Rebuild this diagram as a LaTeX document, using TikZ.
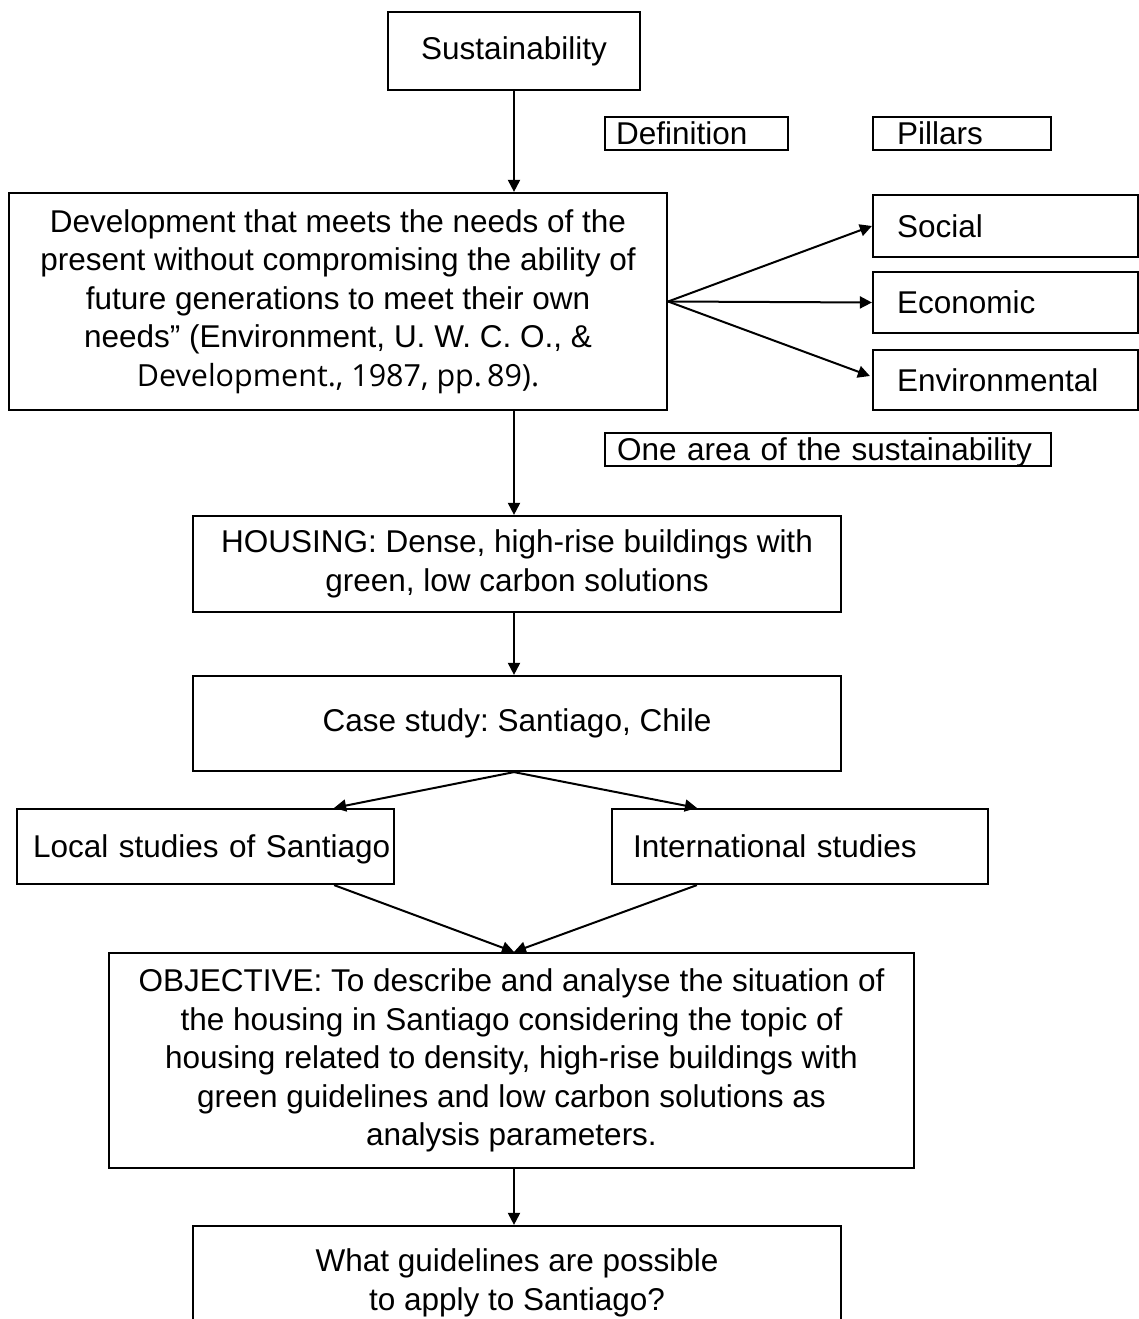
\documentclass[tikz,border=0pt]{standalone}
\usepackage{fontspec}
\setmainfont{Liberation Sans}
\newfontfamily\opensans{Open Sans}
\usetikzlibrary{arrows.meta,calc}
\newcommand{\fsz}{\fontsize{31.5}{38.5}\selectfont\frenchspacing}
\begin{document}
\begin{tikzpicture}[x=1pt,y=-1pt,
  box/.style={draw, line width=2.2pt, inner sep=0pt, font=\fsz, align=center},
  lbox/.style={box, align=left},
  tag/.style={lbox, text height=28pt, text depth=5pt},
  mid/.style={lbox, minimum height=75pt, text height=26pt, text depth=4pt},
  arr/.style={line width=2pt, -{Triangle[length=12pt,width=12pt]}}]
\path[use as bounding box] (0,0) rectangle (1139,1319);
\begin{scope}
\clip (0,0) rectangle (1139,1319);
% main column
\node[box, minimum width=252pt, minimum height=78pt] (sus) at (514,51) {Sustainability};
\node[box, minimum width=658pt, minimum height=217pt] (defn) at (338,301.5)
  {Development that meets the needs of the\\present without compromising the ability of\\future generations to meet their own\\needs'' (Environment, U. W. C. O., \&\\{\opensans\fontsize{30.5}{38.5}\selectfont Development., 1987, pp.\,89).}};
\node[box, minimum width=648pt, minimum height=96pt] (hou) at (517,564)
  {HOUSING: Dense, high-rise buildings with\\green, low carbon solutions};
\node[box, minimum width=648pt, minimum height=95pt] (cas) at (517,723.5) {Case study: Santiago, Chile};
\node[mid, text width=345pt, inner xsep=16pt] (loc) at (205.5,846.5) {\mbox{Local studies of Santiago}};
\node[mid, text width=334pt, inner xsep=21pt] (int) at (800,846.5) {\mbox{International studies}};
\node[box, minimum width=805pt, minimum height=215pt] (obj) at (511.5,1060.5)
  {OBJECTIVE: To describe and analyse the situation of\\the housing in Santiago considering the topic of\\housing related to density, high-rise buildings with\\green guidelines and low carbon solutions as\\analysis parameters.};
\node[box, minimum width=648pt, minimum height=114pt] (q) at (517,1283)
  {What guidelines are possible\\to apply to Santiago?};
% pillars
\node[lbox, text width=217pt, inner xsep=24pt, minimum height=62pt] (soc) at (1005.5,226) {Social};
\node[lbox, text width=217pt, inner xsep=24pt, minimum height=61pt] (eco) at (1005.5,302.5) {Economic};
\node[lbox, text width=217pt, inner xsep=24pt, minimum height=60pt] (env) at (1005.5,380) {Environmental};
% tags
\node[tag, text width=161pt, inner xsep=11pt] (tdef) at (696.5,133.5) {Definition};
\node[tag, text width=130pt, inner xsep=24pt] (tpil) at (962,133.5) {Pillars};
\node[lbox, text width=422pt, inner xsep=12pt, text height=27pt, text depth=6pt] (tone) at (828,449.5) {\mbox{One area of the sustainability}};
% connectors
\coordinate (mx) at (514,0);
\draw[arr] (sus.south) -- (defn.north -| mx);
\draw[arr] (defn.south -| mx) -- (hou.north -| mx);
\draw[arr] (hou.south -| mx) -- (cas.north -| mx);
\draw[arr] (defn.east) -- (soc.west);
\draw[arr] (defn.east) -- (eco.west);
\draw[arr] (defn.east) -- ($(env.west)+(-2,-4)$);
\coordinate (ltop) at ($(loc.north east)+(-61,0)$);
\coordinate (lbot) at ($(loc.south east)+(-61,0)$);
\coordinate (itop) at ($(int.north west)+(86,0)$);
\coordinate (ibot) at ($(int.south west)+(86,0)$);
\draw[arr] (cas.south -| mx) -- (ltop);
\draw[arr] (cas.south -| mx) -- (itop);
\draw[arr] (lbot) -- (obj.north -| mx);
\draw[arr] (ibot) -- (obj.north -| mx);
\draw[arr] (obj.south -| mx) -- (q.north -| mx);
\end{scope}
\end{tikzpicture}
\end{document}
